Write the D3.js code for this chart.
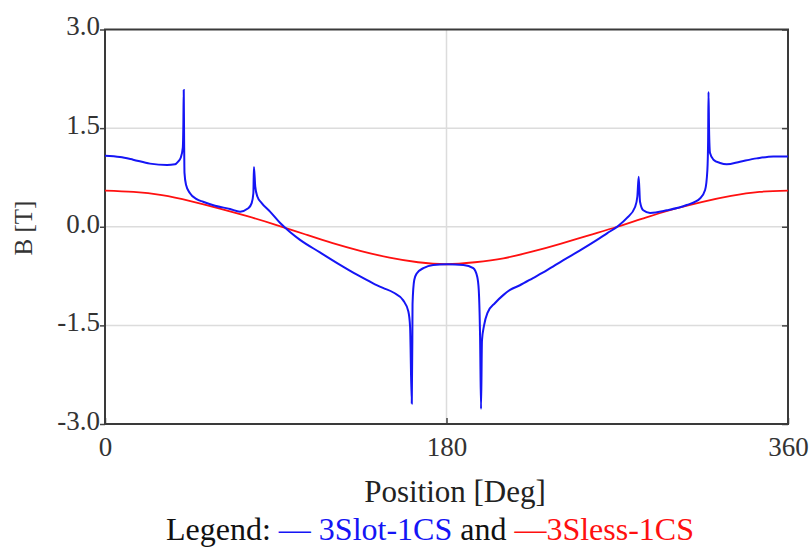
<!DOCTYPE html>
<html>
<head>
<meta charset="utf-8">
<script src="https://cdn.jsdelivr.net/npm/d3@7"></script>
<style>
  body { margin: 0; background: #fff; }
  text { font-family: "Liberation Serif", "DejaVu Serif", serif; }
</style>
</head>
<body>
<div id="chart"></div>
<script>
let svgWidth = 809;
let svgHeight = 549;
let margin = { top: 29.5, right: 21, bottom: 125, left: 105 };
let width = svgWidth - margin.left - margin.right;
let height = svgHeight - margin.top - margin.bottom;

// Data

let xTicks = [0, 180, 360];
let yTicks = [-3.0, -1.5, 0.0, 1.5, 3.0];

// 3Slot-1CS
let slotDeg = [0, 7.9, 14.8, 23.7, 32.7, 36.9, 38.5, 39.9, 41.0, 41.3, 41.5, 41.7, 41.9, 42.7, 44.8, 48.3,
  51.7, 58.0, 65.9, 71.2, 75.5, 77.3, 78.2, 78.5, 79.2, 80.3, 82.6, 87.0, 92.2, 97.5, 102.8, 113.3,
  123.9, 132.8, 141.3, 146.5, 152.0, 157.2, 159.9, 160.8, 161.7, 162.0, 162.1, 163.0, 164.3, 167.8,
  173.0, 180.1, 188.9, 194.1, 196.2, 197.0, 197.7, 198.2, 198.7, 199.8, 201.6, 205.6, 209.9, 213.5,
  218.7, 225.6, 233.0, 241.4, 250.4, 258.3, 264.6, 270.4, 275.0, 279.4, 280.6, 281.3, 282.0, 283.7,
  287.3, 296.1, 306.6, 313.6, 316.3, 317.5, 317.9, 318.1, 318.4, 318.9, 320.7, 324.2, 327.7, 334.7,
  343.5, 352.3, 360];
let slotB = [1.08, 1.06, 1.02, 0.96, 0.94, 0.95, 0.99, 1.05, 1.2, 1.55, 2.08, 1.32, 0.82, 0.64, 0.51, 0.42,
  0.38, 0.32, 0.27, 0.23, 0.28, 0.36, 0.51, 0.91, 0.61, 0.46, 0.36, 0.23, 0.06, -0.08, -0.2, -0.39,
  -0.58, -0.73, -0.86, -0.93, -1.0, -1.12, -1.29, -1.52, -2.69, -1.73, -1.17, -0.81, -0.71, -0.63,
  -0.58, -0.57, -0.58, -0.63, -0.76, -0.96, -1.68, -2.77, -1.73, -1.5, -1.31, -1.16, -1.04, -0.96,
  -0.89, -0.78, -0.66, -0.51, -0.36, -0.22, -0.1, 0.01, 0.13, 0.3, 0.46, 0.76, 0.38, 0.25,
  0.21, 0.25, 0.33, 0.43, 0.56, 0.86, 1.32, 2.05, 1.47, 1.12, 1.02, 0.97, 0.95, 0.99,
  1.04, 1.07, 1.07];

// 3Sless-1CS
let slessDeg = [0, 15, 30, 45, 60, 75, 90, 105, 120, 135, 150, 165, 180, 195, 210, 225, 240, 255, 270, 285, 300, 315, 330, 345, 360];
let slessB = [0.55, 0.53, 0.48, 0.39, 0.28, 0.16, 0.03, -0.11, -0.25, -0.37, -0.47, -0.54, -0.57, -0.54, -0.48, -0.38, -0.26, -0.13, 0.0, 0.14, 0.27, 0.38, 0.47, 0.53, 0.55];

let slotData = slotDeg.map((d, i) => ({ x: d, y: slotB[i] }));
let slessData = slessDeg.map((d, i) => ({ x: d, y: slessB[i] }));

let svg = d3.select("#chart").append("svg").attr("width", svgWidth).attr("height", svgHeight);
let chartGroup = svg.append("g").attr("transform", `translate(${margin.left}, ${margin.top})`);

let xScale = d3.scaleLinear().domain([0, 360]).range([0, width]);
let yScale = d3.scaleLinear().domain([-3, 3]).range([height, 0]);

// Grid
chartGroup.selectAll(".hgrid")
  .data(yTicks.filter(d => Math.abs(d) < 3))
  .enter().append("line")
  .attr("x1", 0).attr("x2", width)
  .attr("y1", d => yScale(d)).attr("y2", d => yScale(d))
  .attr("stroke", "#dcdcdc").attr("stroke-width", 1.5);

chartGroup.append("line")
  .attr("x1", xScale(180)).attr("x2", xScale(180))
  .attr("y1", 0).attr("y2", height)
  .attr("stroke", "#dcdcdc").attr("stroke-width", 1.5);

// Axes
let yAxis = chartGroup.append("g")
  .call(d3.axisLeft(yScale).tickValues(yTicks).tickFormat(d => d.toFixed(1)).tickSize(5).tickPadding(0));
yAxis.select(".domain").remove();
yAxis.selectAll("line").attr("stroke", "#444").attr("stroke-width", 1.5);
yAxis.selectAll("text")
  .attr("dy", "0.2em")
  .style("font-size", "27px")
  .attr("fill", "#333");

let yAxisRight = chartGroup.append("g")
  .attr("transform", `translate(${width}, 0)`)
  .call(d3.axisRight(yScale).tickValues(yTicks).tickFormat("").tickSize(-6));
yAxisRight.select(".domain").remove();
yAxisRight.selectAll("line").attr("stroke", "#444").attr("stroke-width", 1.5);

let xAxis = chartGroup.append("g")
  .attr("transform", `translate(0, ${height})`)
  .call(d3.axisBottom(xScale).tickValues(xTicks).tickSize(-6));
xAxis.select(".domain").remove();
xAxis.selectAll("line").attr("stroke", "#444").attr("stroke-width", 1.5);
xAxis.selectAll("text")
  .attr("y", 32)
  .attr("dy", null)
  .style("font-size", "27px")
  .attr("fill", "#333");

// Frame
chartGroup.append("rect")
  .attr("x", 0).attr("y", 0)
  .attr("width", width).attr("height", height)
  .attr("fill", "none")
  .attr("stroke", "#3a3a3a")
  .attr("stroke-width", 2);

// Lines
let slotLine = d3.line()
  .x(d => xScale(d.x))
  .y(d => yScale(d.y))
  .curve(d3.curveMonotoneX);

let slessLine = d3.line()
  .x(d => xScale(d.x))
  .y(d => yScale(d.y))
  .curve(d3.curveNatural);

chartGroup.append("path")
  .datum(slessData)
  .attr("d", slessLine)
  .attr("fill", "none")
  .attr("stroke", "#ff1010")
  .attr("stroke-width", 1.8);

chartGroup.append("path")
  .datum(slotData)
  .attr("d", slotLine)
  .attr("fill", "none")
  .attr("stroke", "#1515f5")
  .attr("stroke-width", 2);

// Labels
svg.append("text")
  .attr("transform", "rotate(-90)")
  .attr("x", -228)
  .attr("y", 31.5)
  .attr("text-anchor", "middle")
  .style("font-size", "25px")
  .attr("fill", "#333")
  .text("B [T]");

svg.append("text")
  .attr("x", 455)
  .attr("y", 502)
  .attr("text-anchor", "middle")
  .style("font-size", "31px")
  .attr("fill", "#222")
  .text("Position [Deg]");

let legend = svg.append("text")
  .attr("x", 430)
  .attr("y", 540)
  .attr("text-anchor", "middle")
  .style("font-size", "32px")
  .attr("fill", "#111");
legend.append("tspan").text("Legend: ");
legend.append("tspan").attr("fill", "#1515f5").text("\u2014 3Slot-1CS");
legend.append("tspan").text(" and ");
legend.append("tspan").attr("fill", "#ff1010").text("\u20143Sless-1CS");
</script>
</body>
</html>
